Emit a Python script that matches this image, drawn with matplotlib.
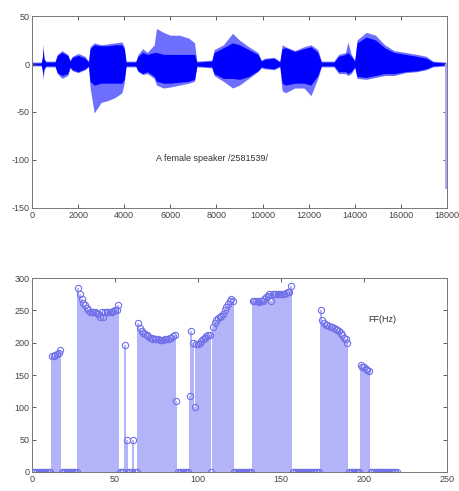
import numpy as np
import matplotlib.pyplot as plt

plt.rcParams['font.family'] = ['Liberation Sans', 'DejaVu Sans']
plt.rcParams['axes.unicode_minus'] = False

# --- top panel: speech waveform, read as an envelope (outer = faint, core = solid) ---
wave_x = [0, 400, 450, 480, 520, 600, 1000, 1100, 1300, 1550, 1650, 1750, 2000, 2300,
          2450, 2520, 2700, 3000, 3300, 3600, 3900, 4000, 4080, 4500, 4600, 4800, 5000,
          5300, 5400, 5700, 6000, 6400, 6800, 7050, 7150, 7800, 7900, 8300, 8700, 9000,
          9400, 9800, 9950, 10100, 10500, 10750, 10850, 11000, 11400, 11800, 12100, 12400,
          12550, 13100, 13300, 13600, 13700, 13850, 14000, 14100, 14500, 14900, 15300,
          15700, 16200, 16700, 17100, 17400, 17950]
wave_hi = [2, 2, 8, 21, 6, 3, 3, 10, 14, 10, 4, 8, 11, 8,
           3, 18, 22, 20, 21, 22, 23, 18, 3, 3, 10, 16, 12,
           20, 37, 33, 30, 30, 27, 22, 3, 4, 15, 20, 32, 25,
           18, 12, 4, 6, 7, 3, 20, 18, 14, 18, 20, 15,
           3, 3, 10, 12, 23, 10, 4, 25, 33, 30, 20,
           14, 12, 10, 8, 3, 2]
wave_lo = [-2, -2, -8, -16, -6, -3, -3, -10, -15, -12, -4, -7, -9, -6,
           -3, -25, -51, -40, -38, -35, -30, -20, -3, -3, -8, -11, -10,
           -15, -22, -25, -24, -22, -20, -18, -3, -4, -12, -18, -25, -22,
           -15, -8, -4, -5, -6, -3, -28, -30, -25, -25, -33, -15,
           -3, -3, -10, -10, -12, -10, -4, -15, -16, -14, -12,
           -12, -9, -8, -6, -3, -2]
core_hi = [1, 1, 6, 16, 5, 2, 2, 9, 12, 9, 3, 7, 9, 6,
           2, 16, 20, 19, 19, 20, 20, 16, 2, 2, 8, 12, 10,
           12, 12, 10, 10, 10, 10, 10, 2, 3, 12, 17, 22, 20,
           15, 10, 3, 5, 6, 2, 16, 17, 13, 16, 18, 12,
           2, 2, 8, 10, 12, 8, 3, 22, 28, 25, 17,
           12, 10, 8, 6, 2, 1]
core_lo = [-1, -1, -6, -12, -5, -2, -2, -9, -12, -10, -3, -6, -8, -5,
           -2, -18, -22, -20, -20, -20, -20, -16, -2, -2, -7, -10, -8,
           -13, -18, -20, -20, -19, -18, -16, -2, -3, -10, -15, -15, -16,
           -13, -7, -3, -4, -5, -2, -20, -22, -20, -20, -22, -12,
           -2, -2, -8, -8, -10, -8, -3, -13, -14, -12, -10,
           -10, -8, -7, -5, -2, -1]
spike_x = 17960
spike_lo = -130

# --- bottom panel: FF (Hz) per frame ---
ff_hz = ([0] * 11 +
         [179, 180, 181, 182, 184, 188] +
         [0] * 10 +
         [285, 275, 268, 262, 258, 254, 250, 248, 248, 247, 247, 246, 245, 240, 248,
          240, 248, 247, 247, 248, 248, 249, 250, 250, 258] +
         [0, 0, 0] + [196] + [50] + [0, 0, 0] + [50] + [0, 0] +
         [230, 222, 218, 215, 213, 212, 210, 208, 207, 206, 205, 205, 205, 204, 204,
          204, 205, 205, 206, 207, 208, 210, 212] +
         [110] + [0] * 7 + [118, 218, 200, 100] +
         [198, 198, 200, 203, 205, 208, 210, 212, 212] + [0] +
         [225, 230, 235, 238, 240, 242, 245, 250, 255, 260, 265, 267, 265] +
         [0] * 11 +
         [265, 265, 265, 265, 263, 265, 265, 268, 270, 272, 275, 265, 275, 275, 275,
          275, 276, 276, 276, 276, 277, 278, 278, 288] +
         [0] * 17 +
         [250, 235, 230, 228, 227, 226, 225, 224, 222, 221, 220, 218, 215, 212, 208,
          205, 200] +
         [0] * 7 +
         [165, 163, 162, 160, 158, 157] +
         [0] * 17)
frames = np.arange(1, len(ff_hz) + 1)

fig = plt.figure(figsize=(4.6, 4.91), dpi=100)
ax1 = fig.add_axes([0.0696, 0.5764, 0.902, 0.391])
ax2 = fig.add_axes([0.0696, 0.0387, 0.902, 0.395])

ax1.fill_between(wave_x, wave_lo, wave_hi, color='#6f6fff', lw=0)
ax1.fill_between(wave_x, core_lo, core_hi, color='#0000ff', lw=0)
ax1.vlines(spike_x, spike_lo, 0, color='#a8a8ff', lw=1.4)
ax1.text(7800, -98, 'A female speaker /2581539/', fontsize=6.5, ha='center',
         va='center', color='#333333')
ax1.set_xlim(0, 18000)
ax1.set_ylim(-150, 50)
ax1.set_xticks(np.arange(0, 18001, 2000))
ax1.set_yticks(np.arange(-150, 51, 50))

ml, sl, bl = ax2.stem(frames, ff_hz, linefmt='-', markerfmt='o', basefmt=' ')
plt.setp(sl, color='#b2b2f8', linewidth=1.4)
plt.setp(ml, markerfacecolor='none', markeredgecolor='#7070ea', markersize=4.5,
         markeredgewidth=0.8)
ax2.text(211, 236, 'FF(Hz)', fontsize=6.5, ha='center', va='center', color='#333333')
ax2.set_xlim(0, 250)
ax2.set_ylim(0, 300)
ax2.set_xticks(np.arange(0, 251, 50))
ax2.set_yticks(np.arange(0, 301, 50))

for ax in (ax1, ax2):
    ax.tick_params(direction='in', length=3, width=0.6, labelsize=6.5,
                   colors='#444444', right=True, top=True, pad=2)
    for s in ax.spines.values():
        s.set_color('#777777')
        s.set_linewidth(0.7)

fig.savefig('out.png', dpi=100)
